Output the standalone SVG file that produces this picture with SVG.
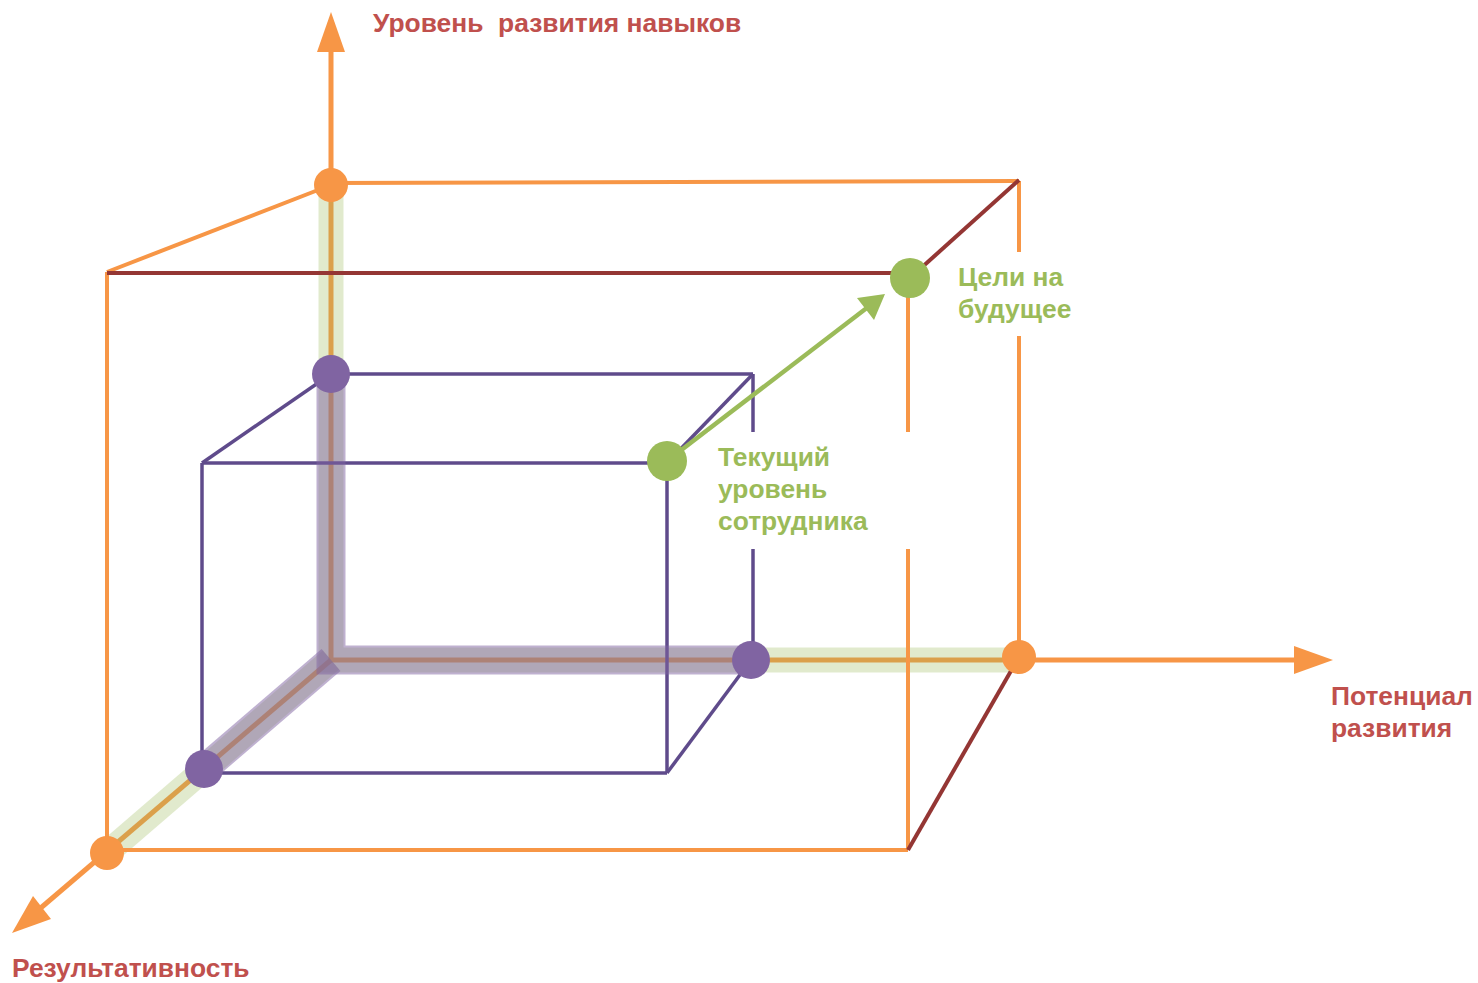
<svg xmlns="http://www.w3.org/2000/svg" width="1478" height="983" viewBox="0 0 1478 983">
<style>
.or{stroke:#f79646;stroke-width:4;fill:none}
.ax{stroke:#f79646;stroke-width:5;fill:none}
.dr{stroke:#943634;stroke-width:4;fill:none}
.pu{stroke:#5f4b8b;stroke-width:3.5;fill:none}
.gband{stroke:#9bbb59;stroke-opacity:0.3;stroke-width:25;fill:none}
.pband{stroke:#8064a2;stroke-opacity:0.5;stroke-width:29;fill:none}
.red{font-family:"Liberation Sans",Arial,sans-serif;font-weight:bold;font-size:26.4px;fill:#c0504d}
.grn{font-family:"Liberation Sans",Arial,sans-serif;font-weight:bold;font-size:26.4px;fill:#9bbb59}
</style>
<rect width="1478" height="983" fill="#ffffff"/>
<g id="connectors">
<!-- axes -->
<line class="ax" x1="331" y1="660" x2="331" y2="48"/>
<polygon points="331,12 345,52 317,52" fill="#f79646"/>
<line class="ax" x1="331" y1="660" x2="1298" y2="660"/>
<polygon points="1333,660 1294,646 1294,674" fill="#f79646"/>
<line class="ax" x1="331" y1="660" x2="36" y2="912"/>
<polygon points="12,933 51,919 33,896" fill="#f79646"/>
<!-- green bands -->
<path class="gband" d="M331,185 V660 H1019"/>
<line class="gband" x1="331" y1="660" x2="107" y2="853"/>
<!-- big box -->
<line class="or" x1="331" y1="183" x2="1019" y2="181"/>
<line class="or" x1="331" y1="185" x2="107" y2="272"/>
<line class="or" x1="1019" y1="181" x2="1019" y2="657"/>
<line class="or" x1="107" y1="272" x2="107" y2="853"/>
<line class="or" x1="107" y1="850" x2="908" y2="850"/>
<line class="or" x1="908" y1="278" x2="908" y2="850"/>
<line class="dr" x1="107" y1="273" x2="910" y2="273"/>
<line class="dr" x1="910" y1="278" x2="1019" y2="180"/>
<line class="dr" x1="908" y1="850" x2="1019" y2="657"/>
<!-- small box -->
<line class="pu" x1="331" y1="374" x2="753" y2="374"/>
<line class="pu" x1="753" y1="374" x2="753" y2="660"/>
<line class="pu" x1="331" y1="374" x2="202" y2="463"/>
<line class="pu" x1="202" y1="463" x2="667" y2="463"/>
<line class="pu" x1="667" y1="463" x2="753" y2="374"/>
<line class="pu" x1="202" y1="463" x2="202" y2="773"/>
<line class="pu" x1="667" y1="463" x2="667" y2="773"/>
<line class="pu" x1="202" y1="773" x2="667" y2="773"/>
<line class="pu" x1="667" y1="773" x2="751" y2="660"/>
<!-- purple bands -->
<path class="pband" d="M331,374 V660 H751"/>
<line class="pband" x1="331" y1="660" x2="204" y2="769"/>
<!-- green arrow -->
<line x1="667" y1="461" x2="868" y2="307" stroke="#9bbb59" stroke-width="4.5"/>
<polygon points="885,294 874,320 857,298" fill="#9bbb59"/>
</g>
<g id="label-backgrounds">
<rect x="948" y="252" width="125" height="84" fill="#ffffff"/>
<rect x="708" y="432" width="208" height="117" fill="#ffffff"/>
</g>
<g id="orange-points">
<circle cx="331" cy="185" r="17" fill="#f79646"/>
<circle cx="1019" cy="657" r="17" fill="#f79646"/>
<circle cx="107" cy="853" r="17" fill="#f79646"/>
</g>
<g id="purple-points">
<circle cx="331" cy="374" r="19" fill="#8064a2"/>
<circle cx="751" cy="660" r="19" fill="#8064a2"/>
<circle cx="204" cy="769" r="19" fill="#8064a2"/>
</g>
<g id="goal">
<circle cx="910" cy="278" r="20" fill="#9bbb59"/>
<text class="grn" x="958" y="286">Цели на</text>
<text class="grn" x="958" y="318">будущее</text>
</g>
<g id="current">
<circle cx="667" cy="461" r="20" fill="#9bbb59"/>
<text class="grn" x="718" y="466">Текущий</text>
<text class="grn" x="718" y="498">уровень</text>
<text class="grn" x="718" y="530">сотрудника</text>
</g>
<g id="axis-skills">
<text class="red" x="373" y="32" xml:space="preserve" style="white-space:pre">Уровень  развития навыков</text>
</g>
<g id="axis-potential">
<text class="red" x="1331" y="705">Потенциал</text>
<text class="red" x="1331" y="737">развития</text>
</g>
<g id="axis-result">
<text class="red" x="12" y="977">Результативность</text>
</g>
</svg>
